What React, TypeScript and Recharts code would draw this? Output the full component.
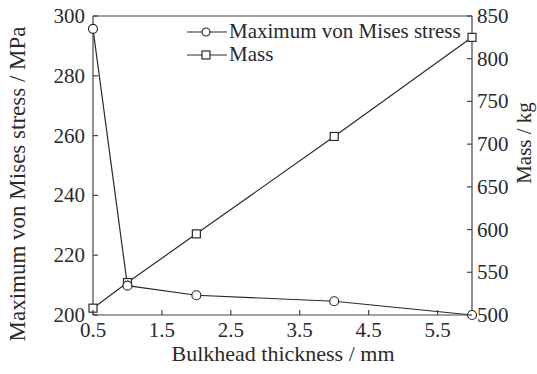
import React from "react";
import { LineChart, Line, XAxis, YAxis, ReferenceLine, Legend } from "recharts";

const thickness = [0.5, 1, 2, 4, 6];
const stressValues = [295.7, 209.8, 206.6, 204.6, 200];
const massValues = [508, 538, 595, 709, 825];
const xTicks = [0.5, 1.5, 2.5, 3.5, 4.5, 5.5];
const stressTicks = [200, 220, 240, 260, 280, 300];
const massTicks = [500, 550, 600, 650, 700, 750, 800, 850];

const data = thickness.map((t, i) => ({ t, stress: stressValues[i], mass: massValues[i] }));

const FONT = "'Liberation Serif', 'Times New Roman', serif";
const INK = "#2a2a2a";
const AXIS = "#444";
const FS = 21;

const XTick = (p: any) => (
  <g>
    <line x1={p.x} x2={p.x} y1={p.y} y2={p.y - 5} stroke={AXIS} strokeWidth={1.2} />
    <text x={p.x} y={p.y + 22} textAnchor="middle" fontSize={FS} fontFamily={FONT} fill={INK}>
      {Number(p.payload.value).toFixed(1)}
    </text>
  </g>
);

const LeftTick = (p: any) => (
  <g>
    <line x1={p.x} x2={p.x + 5} y1={p.y} y2={p.y} stroke={AXIS} strokeWidth={1.2} />
    <text x={p.x - 8} y={p.y} textAnchor="end" dominantBaseline="central" fontSize={FS} fontFamily={FONT} fill={INK}>
      {p.payload.value}
    </text>
  </g>
);

const RightTick = (p: any) => (
  <g>
    <line x1={p.x} x2={p.x - 5} y1={p.y} y2={p.y} stroke={AXIS} strokeWidth={1.2} />
    <text x={p.x + 5} y={p.y} textAnchor="start" dominantBaseline="central" fontSize={FS} fontFamily={FONT} fill={INK}>
      {p.payload.value}
    </text>
  </g>
);

const SquareDot = (p: any) => (
  <rect key={p.key} x={p.cx - 4} y={p.cy - 4} width={8} height={8} fill="#fff" stroke={INK} strokeWidth={1.2} />
);

const LegendContent = () => (
  <div style={{ fontFamily: FONT, fontSize: FS, color: INK, lineHeight: "23px" }}>
    <div style={{ display: "flex", alignItems: "center" }}>
      <svg width={40} height={12} style={{ marginRight: 2 }}>
        <line x1={0} x2={40} y1={6} y2={6} stroke={INK} strokeWidth={1.2} />
        <circle cx={19} cy={6} r={4} fill="#fff" stroke={INK} strokeWidth={1.2} />
      </svg>
      <span>Maximum von Mises stress</span>
    </div>
    <div style={{ display: "flex", alignItems: "center" }}>
      <svg width={40} height={12} style={{ marginRight: 2 }}>
        <line x1={0} x2={40} y1={6} y2={6} stroke={INK} strokeWidth={1.2} />
        <rect x={15} y={2} width={8} height={8} fill="#fff" stroke={INK} strokeWidth={1.2} />
      </svg>
      <span>Mass</span>
    </div>
  </div>
);

export default function App() {
  return (
    <div style={{ position: "absolute", left: 0, top: 0, width: 537, height: 374, background: "#fff" }}>
      <LineChart width={537} height={374} data={data} margin={{ top: 16, right: 0, left: 0, bottom: 0 }}>
        <XAxis
          dataKey="t"
          type="number"
          domain={[0.5, 6]}
          ticks={xTicks}
          interval={0}
          height={59}
          tickSize={0}
          tickMargin={0}
          tickLine={false}
          tick={<XTick />}
          stroke={AXIS}
          strokeWidth={1.2}
          label={{
            content: () => (
              <text x={283} y={361} textAnchor="middle" fontSize={22} fontFamily={FONT} fill={INK}>
                Bulkhead thickness / mm
              </text>
            ),
          }}
        />
        <YAxis
          yAxisId="left"
          orientation="left"
          domain={[200, 300]}
          ticks={stressTicks}
          interval={0}
          width={93}
          tickSize={0}
          tickMargin={0}
          tickLine={false}
          tick={<LeftTick />}
          stroke={AXIS}
          strokeWidth={1.2}
          label={{
            content: () => (
              <text x={25} y={184} transform="rotate(-90 25 184)" textAnchor="middle" fontSize={23} fontFamily={FONT} fill={INK}>
                Maximum von Mises stress / MPa
              </text>
            ),
          }}
        />
        <YAxis
          yAxisId="right"
          orientation="right"
          domain={[500, 850]}
          ticks={massTicks}
          interval={0}
          width={65}
          tickSize={0}
          tickMargin={0}
          tickLine={false}
          tick={<RightTick />}
          stroke={AXIS}
          strokeWidth={1.2}
          label={{
            content: () => (
              <text x={531} y={143} transform="rotate(-90 531 143)" textAnchor="middle" fontSize={21} fontFamily={FONT} fill={INK}>
                Mass / kg
              </text>
            ),
          }}
        />
        <ReferenceLine yAxisId="left" y={300} stroke={AXIS} strokeWidth={1.2} />
        <Legend
          layout="vertical"
          align="center"
          verticalAlign="middle"
          content={<LegendContent />}
          wrapperStyle={{ left: 187, top: 20, width: "auto", height: "auto" }}
        />
        <Line
          yAxisId="right"
          dataKey="mass"
          type="linear"
          stroke={INK}
          strokeWidth={1.2}
          dot={SquareDot}
          activeDot={false}
          isAnimationActive={false}
        />
        <Line
          yAxisId="left"
          dataKey="stress"
          type="linear"
          stroke={INK}
          strokeWidth={1.2}
          dot={{ r: 4.5, fill: "#fff", stroke: INK, strokeWidth: 1.2 }}
          activeDot={false}
          isAnimationActive={false}
        />
      </LineChart>
    </div>
  );
}
